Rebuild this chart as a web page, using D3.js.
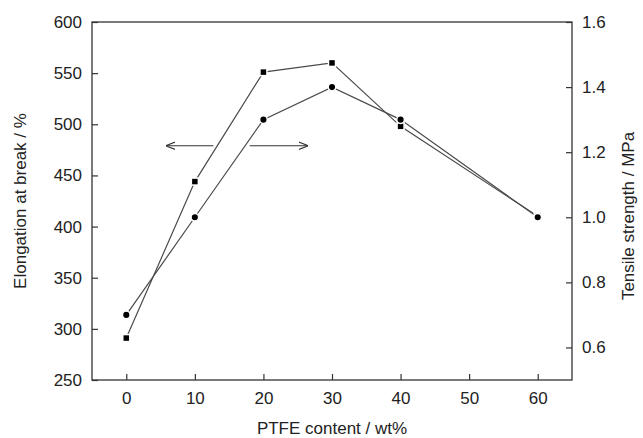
<!DOCTYPE html>
<html>
<head>
<meta charset="utf-8">
<script src="https://cdn.jsdelivr.net/npm/d3@7"></script>
<style>
  body { margin: 0; background: #fff; }
  text { font-family: "Liberation Sans", Arial, sans-serif; fill: #222; }
</style>
</head>
<body>
<div id="chart"></div>
<script>
// PTFE content (wt%)
const ptfe = [0, 10, 20, 30, 40, 60];
// elongation at break (%) - squares, left axis
const elongation = [291, 444, 551, 560, 498, 410];
// tensile strength (MPa) - circles, right axis
const tensile = [0.7, 1.0, 1.3, 1.4, 1.3, 1.0];

const xTicks = [0, 10, 20, 30, 40, 50, 60];
const leftTicks = [250, 300, 350, 400, 450, 500, 550, 600];
const rightTicks = [0.6, 0.8, 1.0, 1.2, 1.4, 1.6];

const width = 643, height = 438;
const margin = {left: 92, right: 71, top: 22, bottom: 58};

const svg = d3.select("#chart").append("svg")
    .attr("width", width)
    .attr("height", height);

const x = d3.scaleLinear().domain([-5, 65]).range([margin.left, width - margin.right]);
const yL = d3.scaleLinear().domain([250, 600]).range([height - margin.bottom, margin.top]);
const yR = d3.scaleLinear().domain([0.5, 1.6]).range([height - margin.bottom, margin.top]);

const ink = "#333";

// frame
svg.append("rect")
    .attr("x", margin.left).attr("y", margin.top)
    .attr("width", width - margin.left - margin.right)
    .attr("height", height - margin.top - margin.bottom)
    .attr("fill", "none").attr("stroke", ink).attr("stroke-width", 1.3);

// axes (ticks inward)
function styleAxis(g) {
    g.select(".domain").remove();
    g.selectAll("line").attr("stroke", ink).attr("stroke-width", 1.2);
    g.selectAll("text").attr("font-size", 17).attr("fill", "#222")
        .attr("font-family", "'Liberation Sans', Arial, sans-serif");
}

const bottom = svg.append("g").attr("transform", `translate(0,${height - margin.bottom})`);
bottom.call(d3.axisBottom(x).tickValues(d3.range(-5, 66, 5)).tickSize(-3).tickFormat(""));
bottom.call(d3.axisBottom(x).tickValues(xTicks).tickSize(-6).tickPadding(12).tickFormat(d3.format("d")))
    .call(styleAxis);
bottom.selectAll("line").attr("stroke", ink);
bottom.select(".domain").remove();

const left = svg.append("g").attr("transform", `translate(${margin.left},0)`);
left.call(d3.axisLeft(yL).tickValues(d3.range(250, 601, 25)).tickSize(-3).tickFormat(""));
left.call(d3.axisLeft(yL).tickValues(leftTicks).tickSize(-6).tickPadding(10).tickFormat(d3.format("d")))
    .call(styleAxis);
left.selectAll("line").attr("stroke", ink);
left.select(".domain").remove();

const right = svg.append("g").attr("transform", `translate(${width - margin.right},0)`);
right.call(d3.axisRight(yR).tickValues(d3.range(0.6, 1.61, 0.1)).tickSize(-3).tickFormat(""));
right.call(d3.axisRight(yR).tickValues(rightTicks).tickSize(-6).tickPadding(10).tickFormat(d3.format(".1f")))
    .call(styleAxis);
right.selectAll("line").attr("stroke", ink);
right.select(".domain").remove();

// axis titles
svg.append("text")
    .attr("x", (margin.left + width - margin.right) / 2)
    .attr("y", 434)
    .attr("text-anchor", "middle")
    .attr("font-size", 17)
    .text("PTFE content / wt%");

svg.append("text")
    .attr("transform", `translate(26,${(margin.top + height - margin.bottom) / 2}) rotate(-90)`)
    .attr("text-anchor", "middle")
    .attr("font-size", 17)
    .text("Elongation at break / %");

svg.append("text")
    .attr("transform", `translate(634,${(margin.top + height - margin.bottom) / 2 + 15}) rotate(-90)`)
    .attr("text-anchor", "middle")
    .attr("font-size", 17)
    .text("Tensile strength / MPa");

// lines
const lineL = d3.line().x((d, i) => x(ptfe[i])).y(d => yL(d));
const lineR = d3.line().x((d, i) => x(ptfe[i])).y(d => yR(d));

svg.append("path").datum(elongation).attr("d", lineL)
    .attr("fill", "none").attr("stroke", "#4a4a4a").attr("stroke-width", 1.2);
svg.append("path").datum(tensile).attr("d", lineR)
    .attr("fill", "none").attr("stroke", "#4a4a4a").attr("stroke-width", 1.2);

// markers
svg.selectAll(".sq").data(elongation).enter().append("rect")
    .attr("x", (d, i) => x(ptfe[i]) - 3.5)
    .attr("y", d => yL(d) - 3.5)
    .attr("width", 7).attr("height", 7)
    .attr("fill", "#000").attr("stroke", "#fff").attr("stroke-width", 1.5);

svg.selectAll(".ci").data(tensile).enter().append("circle")
    .attr("cx", (d, i) => x(ptfe[i]))
    .attr("cy", d => yR(d))
    .attr("r", 3.8)
    .attr("fill", "#000").attr("stroke", "#fff").attr("stroke-width", 1.5);

// arrows pointing to each axis
const defs = svg.append("defs");
defs.append("marker").attr("id", "ah")
    .attr("viewBox", "0 0 10 10").attr("refX", 9).attr("refY", 5)
    .attr("markerWidth", 8).attr("markerHeight", 8)
    .attr("orient", "auto")
    .append("path").attr("d", "M0,1 L10,5 L0,9").attr("fill", "none").attr("stroke", ink).attr("stroke-width", 1.2);

const arrowY = yL(479);
svg.append("line")
    .attr("x1", x(12.7)).attr("x2", x(5.9))
    .attr("y1", arrowY).attr("y2", arrowY)
    .attr("stroke", ink).attr("stroke-width", 1.2).attr("marker-end", "url(#ah)");
svg.append("line")
    .attr("x1", x(18)).attr("x2", x(26.4))
    .attr("y1", arrowY).attr("y2", arrowY)
    .attr("stroke", ink).attr("stroke-width", 1.2).attr("marker-end", "url(#ah)");
</script>
</body>
</html>
